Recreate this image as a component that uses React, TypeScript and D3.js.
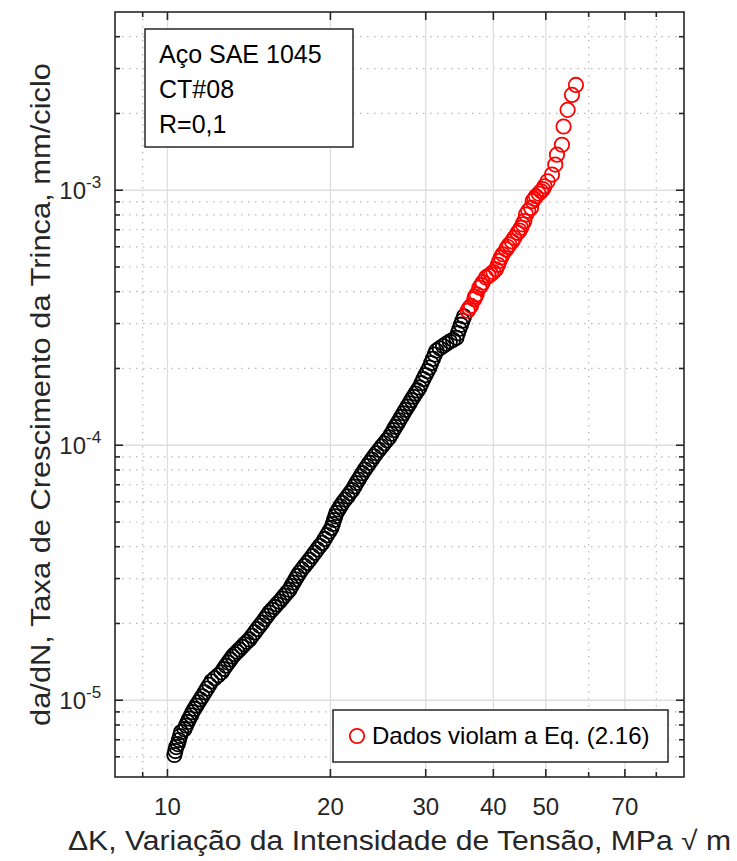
import React from "react";
import * as d3 from "d3";

// ΔK (MPa√m) and da/dN (mm/ciclo) — data within Eq. (2.16) validity (black)
const blackDK: number[] = [
  10.3, 10.34, 10.38, 10.45, 10.5, 10.55, 10.6, 10.75, 10.82, 10.9, 10.97, 11.05,
  11.12, 11.22, 11.31, 11.41, 11.5, 11.6, 11.72, 11.83, 11.95, 12.06, 12.23, 12.41,
  12.58, 12.7, 12.82, 12.95, 13.07, 13.19, 13.32, 13.45, 13.58, 13.73, 13.87, 14.02,
  14.17, 14.33, 14.49, 14.65, 14.81, 14.97, 15.12, 15.28, 15.43, 15.6, 15.77, 15.93,
  16.1, 16.28, 16.45, 16.63, 16.8, 16.95, 17.09, 17.24, 17.38, 17.53, 17.72, 17.92,
  18.11, 18.3, 18.51, 18.71, 18.92, 19.12, 19.33, 19.52, 19.71, 19.9, 20.09, 20.2,
  20.31, 20.41, 20.52, 20.7, 20.87, 21.05, 21.28, 21.51, 21.73, 21.96, 22.15, 22.34,
  22.54, 22.73, 22.92, 23.15, 23.39, 23.62, 23.85, 24.09, 24.32, 24.6, 24.87, 25.15,
  25.42, 25.7, 25.92, 26.15, 26.37, 26.6, 26.82, 27.05, 27.29, 27.52, 27.76, 27.99,
  28.23, 28.48, 28.72, 28.97, 29.21, 29.46, 29.71, 29.97, 30.22, 30.47, 30.7, 30.94,
  31.17, 31.4, 31.85, 32.3, 32.75, 33.23, 33.7, 34.18, 34.4, 34.62, 34.85, 35.07, 35.3,
];
const blackRate: number[] = [
  6.1e-6, 6.32e-6, 6.55e-6, 6.73e-6, 6.98e-6, 7.24e-6, 7.5e-6, 7.7e-6, 7.96e-6, 8.21e-6, 8.47e-6, 8.72e-6,
  8.98e-6, 9.26e-6, 9.53e-6, 9.81e-6, 10.08e-6, 10.36e-6, 10.74e-6, 11.11e-6, 11.49e-6, 11.86e-6, 12.19e-6, 12.53e-6,
  12.86e-6, 13.26e-6, 13.66e-6, 14.05e-6, 14.45e-6, 14.85e-6, 15.17e-6, 15.5e-6, 15.82e-6, 16.19e-6, 16.57e-6, 16.94e-6,
  17.31e-6, 17.88e-6, 18.45e-6, 19.03e-6, 19.6e-6, 20.17e-6, 20.8e-6, 21.44e-6, 22.07e-6, 22.64e-6, 23.22e-6, 23.79e-6,
  24.36e-6, 25.05e-6, 25.74e-6, 26.44e-6, 27.13e-6, 28.03e-6, 28.92e-6, 29.82e-6, 30.72e-6, 31.62e-6, 32.6e-6, 33.59e-6,
  34.57e-6, 35.55e-6, 36.72e-6, 37.89e-6, 39.06e-6, 40.23e-6, 41.4e-6, 42.9e-6, 44.4e-6, 45.9e-6, 47.4e-6, 49.1e-6,
  50.9e-6, 52.6e-6, 54.3e-6, 56.0e-6, 57.6e-6, 59.3e-6, 61.2e-6, 63.0e-6, 64.9e-6, 66.7e-6, 68.9e-6, 71.1e-6,
  73.3e-6, 75.5e-6, 77.7e-6, 80.3e-6, 82.8e-6, 85.4e-6, 87.9e-6, 90.5e-6, 93.0e-6, 95.9e-6, 98.8e-6, 101.7e-6,
  104.6e-6, 107.5e-6, 111.0e-6, 114.6e-6, 118.1e-6, 121.7e-6, 125.2e-6, 129.3e-6, 133.5e-6, 137.6e-6, 141.8e-6, 145.9e-6,
  150.4e-6, 154.9e-6, 159.5e-6, 164.0e-6, 168.5e-6, 175.1e-6, 181.8e-6, 188.4e-6, 195.1e-6, 201.7e-6, 210.0e-6, 218.3e-6,
  226.7e-6, 235e-6, 240e-6, 245e-6, 250e-6, 255e-6, 259e-6, 264e-6, 275e-6, 286e-6, 297e-6, 308e-6, 320e-6,
];

// Data violating Eq. (2.16) (red)
const redDK: number[] = [
  35.86, 36.1, 36.37, 36.89, 37.0, 37.25, 37.69, 38.0, 38.22, 38.77, 39.2, 39.61, 40.0, 40.45,
  40.8, 41.04, 41.3, 41.62, 42.22, 42.5, 42.82, 43.3, 43.73, 44.35, 44.7, 44.99, 45.3, 45.63,
  45.96, 46.4, 46.95, 47.27, 47.6, 47.96, 48.5, 49.0, 49.4, 49.71, 50.38, 51.33, 52.05, 52.43,
  53.55, 53.92, 54.85, 55.89, 56.84,
];
const redRate: number[] = [
  3.37e-4, 3.45e-4, 3.52e-4, 3.74e-4, 3.82e-4, 3.91e-4, 4.15e-4, 4.25e-4, 4.35e-4, 4.55e-4, 4.62e-4, 4.69e-4, 4.78e-4, 4.9e-4,
  5.1e-4, 5.28e-4, 5.45e-4, 5.61e-4, 5.86e-4, 6.0e-4, 6.13e-4, 6.3e-4, 6.51e-4, 6.81e-4, 6.95e-4, 7.13e-4, 7.35e-4, 7.57e-4,
  8.03e-4, 8.3e-4, 8.53e-4, 9.06e-4, 9.25e-4, 9.47e-4, 9.7e-4, 9.91e-4, 1.01e-3, 1.036e-3, 1.084e-3, 1.152e-3, 1.26e-3, 1.379e-3,
  1.508e-3, 1.778e-3, 2.066e-3, 2.365e-3, 2.588e-3,
];

const xTicks: number[] = [10, 20, 30, 40, 50, 70];
const xMinorTicks: number[] = [9, 60, 80];
const yTicks: number[] = [1e-5, 1e-4, 1e-3];
const yTickExponents: string[] = ["-5", "-4", "-3"];
const yMinorTicks: number[] = [
  6e-6, 7e-6, 8e-6, 9e-6,
  2e-5, 3e-5, 4e-5, 5e-5, 6e-5, 7e-5, 8e-5, 9e-5,
  2e-4, 3e-4, 4e-4, 5e-4, 6e-4, 7e-4, 8e-4, 9e-4,
  2e-3, 3e-3, 4e-3,
];
const infoLines: string[] = ["Aço SAE 1045", "CT#08", "R=0,1"];
const legendLabel = "Dados violam a Eq. (2.16)";
const xLabel = "ΔK, Variação da Intensidade de Tensão, MPa √ m";
const yLabel = "da/dN, Taxa de Crescimento da Trinca, mm/ciclo";

const W = 737;
const H = 861;
const L = 115, R = 684, T = 12, B = 777;
const FONT = "'Liberation Sans', Arial, Helvetica, sans-serif";
const AX = "#262626";

export default function App() {
  const x = d3.scaleLog().domain([8, 90]).range([L, R]);
  const y = d3.scaleLog().domain([5e-6, 5e-3]).range([B, T]);
  const black = blackDK.map((d, i) => [d, blackRate[i]] as [number, number]);
  const red = redDK.map((d, i) => [d, redRate[i]] as [number, number]);
  const majLen = 8, minLen = 5;

  return (
    <svg width={W} height={H} style={{ position: "absolute", left: 0, top: 0, background: "#fff" }}
      fontFamily={FONT}>
      <rect x={0} y={0} width={W} height={H} fill="#fff" />
      {/* minor grid */}
      {xMinorTicks.map((t) => (
        <line key={"xmg" + t} x1={x(t)} x2={x(t)} y1={T} y2={B} stroke="#b8b8b8" strokeWidth={1.2} strokeDasharray="1.5,5.5" />
      ))}
      {yMinorTicks.map((t) => (
        <line key={"ymg" + t} x1={L} x2={R} y1={y(t)} y2={y(t)} stroke="#b8b8b8" strokeWidth={1.2} strokeDasharray="1.5,5.5" />
      ))}
      {/* major grid */}
      {xTicks.map((t) => (
        <line key={"xg" + t} x1={x(t)} x2={x(t)} y1={T} y2={B} stroke="#dedede" strokeWidth={1.3} />
      ))}
      {yTicks.map((t) => (
        <line key={"yg" + t} x1={L} x2={R} y1={y(t)} y2={y(t)} stroke="#dedede" strokeWidth={1.3} />
      ))}

      {/* data */}
      <g fill="none" strokeWidth={1.8}>
        {black.map(([a, b], i) => (
          <circle key={"b" + i} cx={x(a)} cy={y(b)} r={7.2} stroke="#000" />
        ))}
        {red.map(([a, b], i) => (
          <circle key={"r" + i} cx={x(a)} cy={y(b)} r={7.2} stroke="#ff0000" />
        ))}
      </g>

      {/* axes box */}
      <rect x={L} y={T} width={R - L} height={B - T} fill="none" stroke={AX} strokeWidth={1.6} />
      {/* ticks */}
      <g stroke={AX} strokeWidth={1.6}>
        {xTicks.map((t) => (
          <g key={"xt" + t}>
            <line x1={x(t)} x2={x(t)} y1={B} y2={B - majLen} />
            <line x1={x(t)} x2={x(t)} y1={T} y2={T + majLen} />
          </g>
        ))}
        {xMinorTicks.map((t) => (
          <g key={"xmt" + t}>
            <line x1={x(t)} x2={x(t)} y1={B} y2={B - minLen} />
            <line x1={x(t)} x2={x(t)} y1={T} y2={T + minLen} />
          </g>
        ))}
        {yTicks.map((t) => (
          <g key={"yt" + t}>
            <line x1={L} x2={L + majLen} y1={y(t)} y2={y(t)} />
            <line x1={R} x2={R - majLen} y1={y(t)} y2={y(t)} />
          </g>
        ))}
        {yMinorTicks.map((t) => (
          <g key={"ymt" + t}>
            <line x1={L} x2={L + minLen} y1={y(t)} y2={y(t)} />
            <line x1={R} x2={R - minLen} y1={y(t)} y2={y(t)} />
          </g>
        ))}
      </g>

      {/* tick labels */}
      {xTicks.map((t) => (
        <text key={"xl" + t} x={x(t)} y={815} textAnchor="middle" fontSize={24} fill={AX}>
          {String(t)}
        </text>
      ))}
      {yTicks.map((t, i) => (
        <g key={"yl" + t}>
          <text x={86} y={y(t) + 9} textAnchor="end" fontSize={24} fill={AX}>10</text>
          <text x={86} y={y(t) - 2} textAnchor="start" fontSize={17} fill={AX}>{yTickExponents[i]}</text>
        </g>
      ))}

      {/* axis labels */}
      <text x={(L + R) / 2} y={850} textAnchor="middle" fontSize={27} fill={AX}
        textLength={663} lengthAdjust="spacingAndGlyphs">
        {xLabel}
      </text>
      <text transform={`translate(50,${(T + B) / 2}) rotate(-90)`} textAnchor="middle" fontSize={27} fill={AX}
        textLength={663} lengthAdjust="spacingAndGlyphs">
        {yLabel}
      </text>

      {/* info box */}
      <rect x={145} y={29} width={208} height={118} fill="#fff" stroke={AX} strokeWidth={1.5} />
      {infoLines.map((s, i) => (
        <text key={"info" + i} x={159} y={63 + i * 35} fontSize={25} fill="#000">{s}</text>
      ))}

      {/* legend */}
      <rect x={333} y={710} width={335} height={52} fill="#fff" stroke={AX} strokeWidth={1.5} />
      <circle cx={357} cy={736} r={7.2} fill="none" stroke="#ff0000" strokeWidth={1.8} />
      <text x={372} y={744} fontSize={24} fill="#000">{legendLabel}</text>
    </svg>
  );
}
